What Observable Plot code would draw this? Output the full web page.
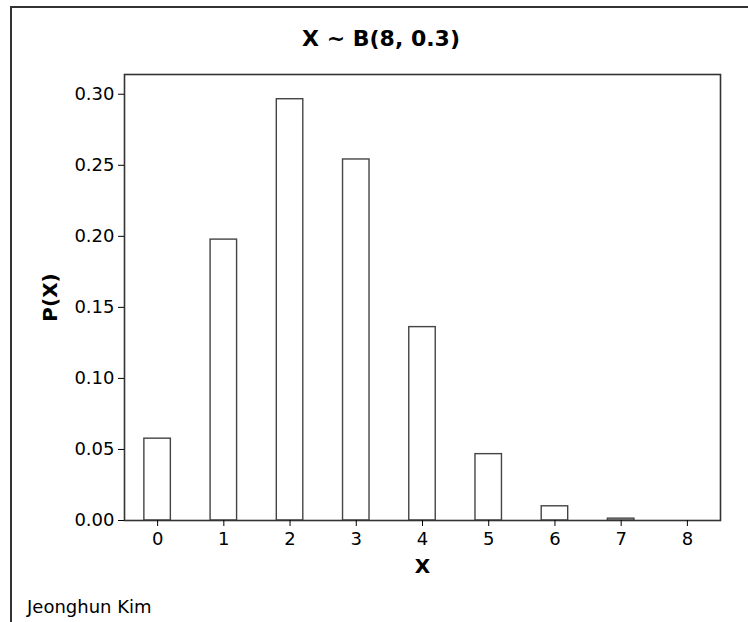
<!DOCTYPE html>
<html>
<head>
<meta charset="utf-8">
<script src="https://cdn.jsdelivr.net/npm/d3@7"></script>
<script src="https://cdn.jsdelivr.net/npm/@observablehq/plot@0.6"></script>
<style>
  html, body { margin: 0; padding: 0; background: #fff; }
  #wrap { position: relative; width: 748px; height: 622px; overflow: hidden; font-family: "DejaVu Sans", sans-serif; }
  #border { position: absolute; left: 10px; top: 6px; right: -10px; bottom: -10px; border-left: 2px solid #333; border-top: 2px solid #333; }
  #title { position: absolute; top: 26px; left: 0; width: 762px; text-align: center; font-weight: bold; font-size: 22px; color: #000; }
  #chart { position: absolute; left: 0; top: 0; }
  #caption { position: absolute; left: 27px; top: 596px; font-size: 18px; color: #000; }
</style>
</head>
<body>
<div id="wrap">
  <div id="border"></div>
  <div id="chart"></div>
  <div id="title">X ~ B(8, 0.3)</div>
  <div id="caption">Jeonghun Kim</div>
</div>
<script>
const xValues = [0, 1, 2, 3, 4, 5, 6, 7, 8];
const probabilities = [0.0576, 0.1977, 0.2965, 0.2541, 0.1361, 0.0467, 0.0100, 0.0013, 0];
const yTicks = [0, 0.05, 0.10, 0.15, 0.20, 0.25, 0.30];
const xTicks = [0, 1, 2, 3, 4, 5, 6, 7, 8];

const data = xValues.map((x, i) => ({x, p: probabilities[i]}));
const halfWidth = 0.2;

const chart = Plot.plot({
  width: 748,
  height: 622,
  marginLeft: 124,
  marginRight: 28,
  marginTop: 74,
  marginBottom: 102,
  style: {fontFamily: "DejaVu Sans, sans-serif", fontSize: "18px", color: "#000", background: "transparent"},
  x: {domain: [-0.5, 8.5]},
  y: {domain: [0, 0.3139]},
  marks: [
    Plot.rectY(data.filter(d => d.p > 0), {x1: d => d.x - halfWidth, x2: d => d.x + halfWidth, y: "p", fill: "white", stroke: "#444", strokeWidth: 1.4}),
    Plot.frame({stroke: "#333", strokeWidth: 1.6}),
    Plot.axisY({ticks: yTicks, tickFormat: d3.format(".2f"), tickSize: 6, tickPadding: 4, label: "P(X)", labelAnchor: "center", labelArrow: "none", labelOffset: 82}),
    Plot.axisX({ticks: xTicks, tickFormat: d3.format("d"), tickSize: 6, tickPadding: 6, label: "X", labelAnchor: "center", labelArrow: "none", labelOffset: 52})
  ]
});
chart.querySelectorAll("g[aria-label='y-axis tick label'] text, g[aria-label='x-axis tick label'] text").forEach(t => t.setAttribute("font-size", "18"));
chart.querySelectorAll("g[aria-label='y-axis tick label'], g[aria-label='x-axis tick label']").forEach(g => g.setAttribute("font-size", "18"));
chart.querySelectorAll("g[aria-label='y-axis label'], g[aria-label='x-axis label']").forEach(g => { g.setAttribute("font-weight", "bold"); g.setAttribute("font-size", "20"); });
chart.querySelectorAll("g[aria-label='y-axis label'] text, g[aria-label='x-axis label'] text").forEach(t => { t.setAttribute("font-weight", "bold"); t.setAttribute("font-size", "20"); });
document.getElementById("chart").appendChild(chart);
</script>
</body>
</html>
